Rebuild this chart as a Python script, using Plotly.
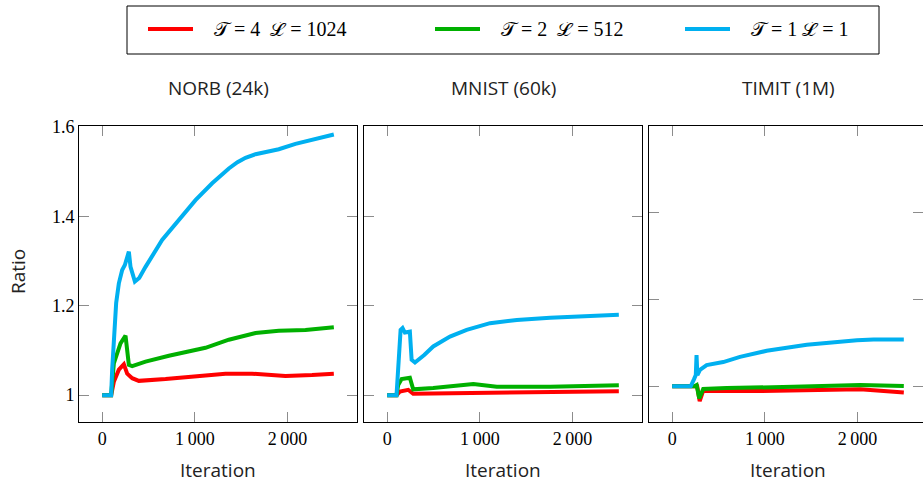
import plotly.graph_objects as go

# ---- data: ratio vs. iteration for three datasets ----
series_names = ["𝒯 = 4\u2002ℒ = 1024", "𝒯 = 2\u2002ℒ = 512", "𝒯 = 1 ℒ = 1"]
series_colors = ["#ff0000", "#00b000", "#00b0f0"]
panel_titles = ["NORB (24k)", "MNIST (60k)", "TIMIT (1M)"]

# NORB
norb_red_x = [0, 97, 126, 180, 234, 270, 324, 396, 684, 1007, 1331, 1618, 1978, 2265, 2500]
norb_red_y = [1.0, 1.0, 1.030, 1.057, 1.069, 1.048, 1.038, 1.032, 1.036, 1.042, 1.048, 1.048, 1.043, 1.045, 1.048]
norb_green_x = [0, 97, 126, 198, 252, 288, 324, 468, 720, 935, 1115, 1367, 1520, 1655, 1906, 2194, 2500]
norb_green_y = [1.0, 1.0, 1.071, 1.116, 1.133, 1.068, 1.065, 1.075, 1.088, 1.097, 1.106, 1.124, 1.133, 1.139, 1.144, 1.146, 1.152]
norb_blue_x = [0, 97, 108, 126, 151, 180, 216, 245, 288, 306, 353, 400, 468, 647, 827, 1007, 1187, 1367, 1460, 1547, 1655, 1780, 1906, 2086, 2265, 2500]
norb_blue_y = [1.0, 1.0, 1.057, 1.131, 1.206, 1.250, 1.280, 1.291, 1.321, 1.287, 1.254, 1.262, 1.287, 1.347, 1.392, 1.436, 1.474, 1.507, 1.521, 1.531, 1.539, 1.544, 1.550, 1.562, 1.572, 1.583]

# MNIST
mnist_red_x = [0, 101, 137, 227, 281, 678, 1399, 2500]
mnist_red_y = [1.0, 1.0, 1.008, 1.012, 1.003, 1.004, 1.007, 1.009]
mnist_green_x = [0, 101, 119, 156, 245, 281, 497, 930, 1183, 1759, 2500]
mnist_green_y = [1.0, 1.0, 1.023, 1.036, 1.039, 1.013, 1.016, 1.025, 1.019, 1.019, 1.022]
mnist_blue_x = [0, 101, 145, 166, 191, 245, 264, 300, 400, 497, 678, 858, 1110, 1399, 1759, 2119, 2500]
mnist_blue_y = [1.0, 1.0, 1.146, 1.150, 1.140, 1.142, 1.079, 1.073, 1.090, 1.109, 1.131, 1.146, 1.161, 1.168, 1.173, 1.177, 1.180]

# TIMIT
timit_red_x = [0, 240, 270, 297, 335, 948, 1669, 2029, 2500]
timit_red_y = [1.0, 1.0, 1.0, 0.983, 0.995, 0.9946, 0.996, 0.9965, 0.993]
timit_green_x = [0, 240, 264, 292, 335, 588, 1308, 2029, 2500]
timit_green_y = [1.0, 1.0, 1.0015, 0.986, 0.997, 0.998, 0.9995, 1.0015, 1.0003]
timit_blue_x = [0, 200, 235, 255, 263, 272, 300, 372, 551, 732, 1020, 1453, 1994, 2173, 2500]
timit_blue_y = [1.0, 1.0, 1.008, 1.013, 1.036, 1.013, 1.019, 1.0245, 1.028, 1.034, 1.041, 1.048, 1.053, 1.054, 1.054]

x_tickvals = [0, 1000, 2000]
x_ticktext = ["0", "1\u2009000", "2\u2009000"]
y_tickvals = [1.0, 1.2, 1.4, 1.6]
y_ticktext = ["1", "1.2", "1.4", "1.6"]
timit_y_tickvals = [1.0, 1.1, 1.2]

panels = [
    [(norb_red_x, norb_red_y), (norb_green_x, norb_green_y), (norb_blue_x, norb_blue_y)],
    [(mnist_red_x, mnist_red_y), (mnist_green_x, mnist_green_y), (mnist_blue_x, mnist_blue_y)],
    [(timit_red_x, timit_red_y), (timit_green_x, timit_green_y), (timit_blue_x, timit_blue_y)],
]

# ---- layout geometry (pixels -> paper fractions) ----
W, H = 923, 484
px_x = lambda p: p / W
px_y = lambda p: 1 - p / H
x_domains = [[px_x(79), px_x(357)], [px_x(364), px_x(642)], [px_x(649), 1.0]]
y_domain = [px_y(422), px_y(126)]
x_ranges = [[-250, 2750], [-250, 2750], [-250, 2707]]
y_ranges = [[0.94, 1.602], [0.94, 1.602], [0.9589, 1.3]]

SERIF = "Liberation Serif"
SANS = "Open Sans"

fig = go.Figure()
for p, traces in enumerate(panels):
    xa = "x" if p == 0 else f"x{p+1}"
    ya = "y" if p == 0 else f"y{p+1}"
    for s, (xs, ys) in enumerate(traces):
        fig.add_trace(go.Scatter(
            x=xs, y=ys, mode="lines", xaxis=xa, yaxis=ya,
            name=series_names[s], showlegend=False,
            line=dict(color=series_colors[s], width=4),
        ))

axis_common = dict(
    showline=True, linecolor="black", linewidth=1, mirror="allticks",
    ticks="inside", ticklen=10, tickwidth=1, tickcolor="#8c8c8c",
    showgrid=False, zeroline=False,
    tickfont=dict(family=SERIF, size=18, color="black"),
)
layout_axes = {}
for p in range(3):
    xk = "xaxis" if p == 0 else f"xaxis{p+1}"
    yk = "yaxis" if p == 0 else f"yaxis{p+1}"
    layout_axes[xk] = dict(axis_common, domain=x_domains[p], range=x_ranges[p],
                           tickmode="array", tickvals=x_tickvals, ticktext=x_ticktext,
                           anchor="y" if p == 0 else f"y{p+1}")
    layout_axes[yk] = dict(axis_common, domain=y_domain, range=y_ranges[p],
                           tickmode="array",
                           tickvals=timit_y_tickvals if p == 2 else y_tickvals,
                           ticktext=y_ticktext if p == 0 else None,
                           showticklabels=(p == 0),
                           anchor="x" if p == 0 else f"x{p+1}")
fig.update_layout(**layout_axes)

annotations = []
shapes = []
centers = [218, 503, 788]
for p in range(3):
    annotations.append(dict(text=panel_titles[p], x=px_x(centers[p]), y=px_y(88),
                            xref="paper", yref="paper", showarrow=False,
                            xanchor="center", yanchor="middle",
                            font=dict(family=SANS, size=19, color="#222")))
    annotations.append(dict(text="Iteration", x=px_x(centers[p]), y=px_y(470),
                            xref="paper", yref="paper", showarrow=False,
                            xanchor="center", yanchor="middle",
                            font=dict(family=SANS, size=19, color="#222")))
annotations.append(dict(text="Ratio", x=px_x(18), y=px_y(272), xref="paper", yref="paper",
                        showarrow=False, textangle=-90, xanchor="center", yanchor="middle",
                        font=dict(family=SANS, size=19, color="#222")))

# legend box with line samples and labels
shapes.append(dict(type="rect", xref="paper", yref="paper",
                   x0=px_x(127), x1=px_x(879), y0=px_y(54), y1=px_y(6),
                   line=dict(color="black", width=1), fillcolor="rgba(0,0,0,0)"))
legend_line_x = [148, 435, 685]
for s in range(3):
    x0 = legend_line_x[s]
    shapes.append(dict(type="line", xref="paper", yref="paper",
                       x0=px_x(x0), x1=px_x(x0 + 45), y0=px_y(29), y1=px_y(29),
                       line=dict(color=series_colors[s], width=4)))
    annotations.append(dict(text=series_names[s], x=px_x(x0 + 64), y=px_y(29),
                            xref="paper", yref="paper", showarrow=False,
                            xanchor="left", yanchor="middle",
                            font=dict(family=SERIF, size=20, color="black")))

fig.update_layout(
    width=W, height=H, margin=dict(l=0, r=0, t=0, b=0, autoexpand=False),
    paper_bgcolor="white", plot_bgcolor="white",
    showlegend=False,
    annotations=annotations,
    shapes=shapes,
)

fig.write_html("out.html")
